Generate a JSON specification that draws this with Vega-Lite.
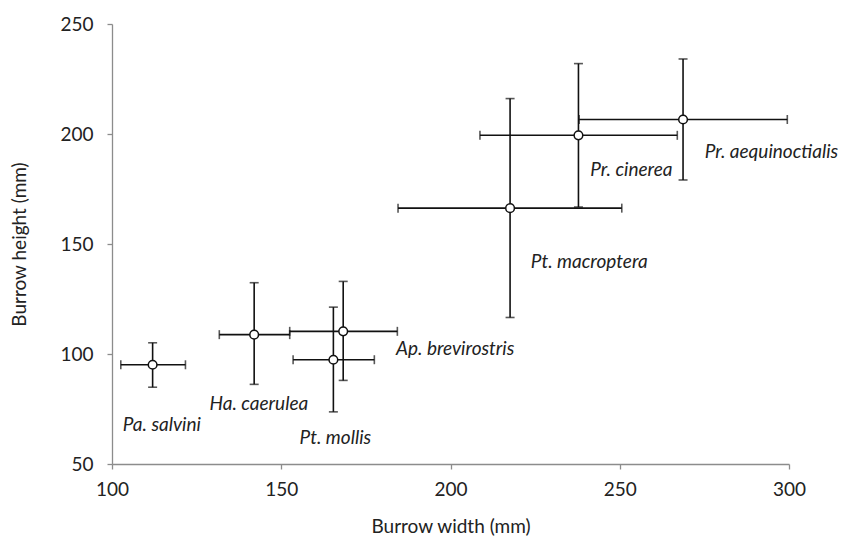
{
  "$schema": "https://vega.github.io/schema/vega-lite/v6.json",
  "width": 677,
  "height": 440,
  "autosize": "none",
  "padding": {"left": 112, "top": 24, "right": 53, "bottom": 75},
  "background": "white",
  "config": {
    "view": {"stroke": null},
    "font": "Lato",
    "axis": {
      "grid": false,
      "labelFlush": false,
      "domainColor": "#8c8c8c",
      "tickColor": "#8c8c8c",
      "domainWidth": 1.3,
      "tickWidth": 1.3,
      "tickSize": 5,
      "labelFont": "Lato",
      "labelFontSize": 19,
      "labelColor": "#222222",
      "titleFont": "Lato",
      "titleFontSize": 19,
      "titleFontWeight": "normal",
      "titleColor": "#222222"
    }
  },
  "datasets": {
    "points": [
      {"species": "Pa. salvini", "x": 112.0, "xlo": 102.6, "xhi": 121.7, "y": 95.1, "ylo": 84.9, "yhi": 105.1},
      {"species": "Ha. caerulea", "x": 142.0, "xlo": 131.7, "xhi": 152.5, "y": 108.8, "ylo": 86.2, "yhi": 132.4},
      {"species": "Ap. brevirostris", "x": 168.3, "xlo": 152.5, "xhi": 184.3, "y": 110.3, "ylo": 88.0, "yhi": 133.0},
      {"species": "Pt. mollis", "x": 165.4, "xlo": 153.5, "xhi": 177.5, "y": 97.4, "ylo": 73.7, "yhi": 121.3},
      {"species": "Pt. macroptera", "x": 217.6, "xlo": 184.5, "xhi": 250.6, "y": 166.3, "ylo": 116.6, "yhi": 216.1},
      {"species": "Pr. cinerea", "x": 237.8, "xlo": 208.7, "xhi": 267.0, "y": 199.4, "ylo": 166.8, "yhi": 232.0},
      {"species": "Pr. aequinoctialis", "x": 268.7, "xlo": 238.0, "xhi": 299.5, "y": 206.6, "ylo": 179.1, "yhi": 234.1}
    ],
    "labels": [
      {"text": "Pa. salvini", "lx": 103.2, "ly": 67.8},
      {"text": "Ha. caerulea", "lx": 128.8, "ly": 77.3},
      {"text": "Pt. mollis", "lx": 155.4, "ly": 62.0},
      {"text": "Ap. brevirostris", "lx": 183.9, "ly": 102.3},
      {"text": "Pt. macroptera", "lx": 223.7, "ly": 141.7},
      {"text": "Pr. cinerea", "lx": 241.3, "ly": 183.5},
      {"text": "Pr. aequinoctialis", "lx": 275.1, "ly": 191.8}
    ]
  },
  "layer": [
    {
      "data": {"name": "points"},
      "mark": {"type": "rule", "color": "#111111", "strokeWidth": 1.6},
      "encoding": {
        "x": {"field": "xlo", "type": "quantitative",
          "scale": {"domain": [100, 300], "nice": false, "zero": false},
          "axis": {"values": [100, 150, 200, 250, 300], "title": "Burrow width (mm)", "labelPadding": 11, "titlePadding": 18}},
        "x2": {"field": "xhi"},
        "y": {"field": "y", "type": "quantitative",
          "scale": {"domain": [50, 250], "nice": false, "zero": false},
          "axis": {"values": [50, 100, 150, 200, 250], "title": "Burrow height (mm)", "labelPadding": 14, "titlePadding": 30}}
      }
    },
    {
      "data": {"name": "points"},
      "mark": {"type": "rule", "color": "#111111", "strokeWidth": 1.6},
      "encoding": {
        "x": {"field": "x", "type": "quantitative"},
        "y": {"field": "ylo", "type": "quantitative"},
        "y2": {"field": "yhi"}
      }
    },
    {
      "data": {"name": "points"},
      "mark": {"type": "tick", "orient": "vertical", "color": "#111111", "size": 9, "thickness": 1.6},
      "encoding": {
        "x": {"field": "xlo", "type": "quantitative"},
        "y": {"field": "y", "type": "quantitative"}
      }
    },
    {
      "data": {"name": "points"},
      "mark": {"type": "tick", "orient": "vertical", "color": "#111111", "size": 9, "thickness": 1.6},
      "encoding": {
        "x": {"field": "xhi", "type": "quantitative"},
        "y": {"field": "y", "type": "quantitative"}
      }
    },
    {
      "data": {"name": "points"},
      "mark": {"type": "tick", "orient": "horizontal", "color": "#111111", "size": 9, "thickness": 1.6},
      "encoding": {
        "x": {"field": "x", "type": "quantitative"},
        "y": {"field": "ylo", "type": "quantitative"}
      }
    },
    {
      "data": {"name": "points"},
      "mark": {"type": "tick", "orient": "horizontal", "color": "#111111", "size": 9, "thickness": 1.6},
      "encoding": {
        "x": {"field": "x", "type": "quantitative"},
        "y": {"field": "yhi", "type": "quantitative"}
      }
    },
    {
      "data": {"name": "points"},
      "mark": {"type": "point", "shape": "circle", "filled": true, "fill": "white", "stroke": "#111111", "strokeWidth": 1.5, "size": 75, "opacity": 1},
      "encoding": {
        "x": {"field": "x", "type": "quantitative"},
        "y": {"field": "y", "type": "quantitative"}
      }
    },
    {
      "data": {"name": "labels"},
      "mark": {"type": "text", "align": "left", "baseline": "middle", "font": "Lato", "fontStyle": "italic", "fontSize": 19, "color": "#222222"},
      "encoding": {
        "x": {"field": "lx", "type": "quantitative"},
        "y": {"field": "ly", "type": "quantitative"},
        "text": {"field": "text"}
      }
    }
  ]
}
